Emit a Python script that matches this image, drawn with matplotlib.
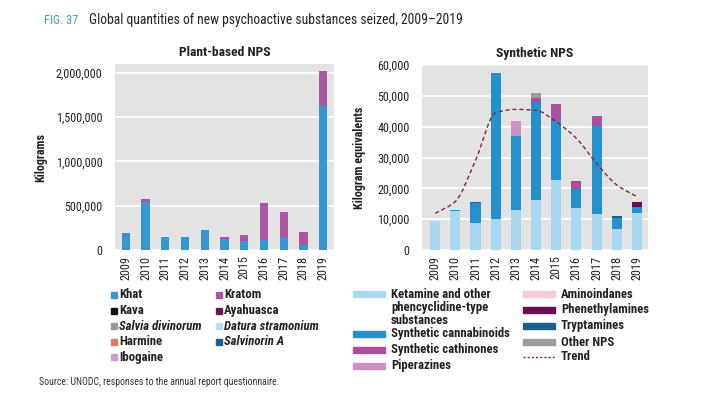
import numpy as np
import matplotlib
matplotlib.use("Agg")
import matplotlib.pyplot as plt
from matplotlib import font_manager
from matplotlib.patches import Rectangle
from matplotlib.path import Path
from matplotlib.patches import PathPatch
from matplotlib.lines import Line2D

# ---------------- data ----------------
years = ["2009", "2010", "2011", "2012", "2013", "2014", "2015", "2016", "2017", "2018", "2019"]

# Plant-based NPS (kilograms)
khat = [196000, 540000, 151000, 151000, 226000, 125000, 106000, 113000, 143000, 57000, 1623000]
kratom = [0, 37000, 0, 0, 0, 18000, 60000, 423000, 291000, 147000, 403000]

# Synthetic NPS (kilogram equivalents)
ketamine = [9500, 12700, 8900, 10000, 13000, 16200, 22700, 13500, 11600, 6800, 11900]
cannabinoids = [0, 300, 6200, 47300, 24000, 31900, 19100, 6200, 28900, 3700, 1900]
cathinones = [0, 0, 0, 0, 0, 1100, 5600, 2700, 3100, 0, 0]
piperazines = [0, 0, 0, 0, 4800, 0, 0, 0, 0, 0, 0]
aminoindanes = [0, 0, 0, 0, 0, 0, 0, 0, 0, 0, 0]
phenethylamines = [0, 0, 0, 0, 0, 0, 0, 0, 0, 0, 1700]
tryptamines = [0, 0, 500, 0, 0, 0, 0, 0, 0, 500, 200]
other_nps = [0, 0, 0, 0, 0, 1600, 0, 0, 0, 0, 0]
trend = [11900, 15700, 29000, 44500, 45600, 45300, 41600, 36200, 28100, 21100, 17300]

left_ticks = [0, 500000, 1000000, 1500000, 2000000]
right_ticks = [0, 10000, 20000, 30000, 40000, 50000, 60000]

plant_legend_col1 = [("Khat", "#3797CF", False), ("Kava", "#111111", False),
                     ("Salvia divinorum", "#9A9A9A", True), ("Harmine", "#E0785C", False),
                     ("Ibogaine", "#C8A0C8", False)]
plant_legend_col2 = [("Kratom", "#A9579F", False), ("Ayahuasca", "#6B1A50", False),
                     ("Datura stramonium", "#B9DDF1", True), ("Salvinorin A", "#1F5D8A", True)]
synth_legend_col1 = [("Ketamine and other\nphencyclidine-type\nsubstances", "#A9D8F2"),
                     ("Synthetic cannabinoids", "#2391CD"),
                     ("Synthetic cathinones", "#A9509F"),
                     ("Piperazines", "#CC92C4")]
synth_legend_col2 = [("Aminoindanes", "#F6C9DD"), ("Phenethylamines", "#6B0D4E"),
                     ("Tryptamines", "#1E5F8D"), ("Other NPS", "#9C9C9C")]

# ---------------- fonts ----------------
avail = {f.name for f in font_manager.fontManager.ttflist}
FONT = "Lato"
for cand in ["Liberation Sans Narrow", "Roboto Condensed", "Lato", "Roboto"]:
    if cand in avail:
        FONT = cand
        break
plt.rcParams["font.family"] = [FONT, "DejaVu Sans"]
TXT = "#222222"

W, H = 720, 395
fig = plt.figure(figsize=(W / 100, H / 100), dpi=100)


def fx(px):
    return px / W


def fy(py):
    return 1 - py / H


BG = "#E3E3E3"
x = np.arange(len(years))
TFS = 8.7


def style_axes(ax, ticks, fmt):
    ax.set_facecolor(BG)
    for s in ax.spines.values():
        s.set_visible(False)
    ax.set_yticks(ticks)
    ax.set_yticklabels([fmt(t) for t in ticks], fontsize=TFS, color=TXT)
    ax.tick_params(axis="y", length=0, pad=9)
    ax.tick_params(axis="x", length=0, pad=4)
    ax.set_xticks(x)
    ax.set_xticklabels(years, rotation=90, fontsize=TFS, color=TXT)
    ax.yaxis.grid(True, color="white", linewidth=1.2)
    ax.set_axisbelow(True)


# ---- left: plant based ----
axL = fig.add_axes([fx(115), fy(250), fx(334) - fx(115), fy(64) - fy(250)])
style_axes(axL, left_ticks, lambda t: f"{t:,}")
axL.bar(x, khat, width=0.42, color="#3797CF", zorder=3)
axL.bar(x, kratom, width=0.42, bottom=khat, color="#A9579F", zorder=3)
axL.set_xlim(-0.55, 10.55)
axL.set_ylim(0, 2100000)
axL.set_title("Plant-based NPS", fontsize=9.7, fontweight="bold", color=TXT, pad=6)
axL.set_ylabel("Kilograms", fontsize=8.7, fontweight="bold", color=TXT, labelpad=6)

# ---- right: synthetic ----
axR = fig.add_axes([fx(422), fy(250), fx(648) - fx(422), fy(65) - fy(250)])
style_axes(axR, right_ticks, lambda t: f"{t:,}")
series = [(ketamine, "#A9D8F2"), (cannabinoids, "#2391CD"), (cathinones, "#A9509F"),
          (piperazines, "#CC92C4"), (aminoindanes, "#F6C9DD"), (tryptamines, "#1E5F8D"),
          (phenethylamines, "#6B0D4E"), (other_nps, "#9C9C9C")]
bottom = np.zeros(len(years))
for vals, col in series:
    v = np.array(vals, dtype=float)
    axR.bar(x, v, width=0.5, bottom=bottom, color=col, zorder=3)
    bottom += v
axR.set_xlim(-0.65, 10.55)
axR.set_ylim(0, 60000)
axR.set_title("Synthetic NPS", fontsize=9.7, fontweight="bold", color=TXT, pad=6)
axR.set_ylabel("Kilogram equivalents", fontsize=8.7, fontweight="bold", color=TXT, labelpad=8)

# smooth trend: monotone cubic (PCHIP tangents) drawn as Bezier path
ty = np.array(trend, dtype=float)
tx = x.astype(float)
d = np.diff(ty)
m = np.zeros_like(ty)
m[0], m[-1] = d[0], d[-1]
for i in range(1, len(ty) - 1):
    if d[i - 1] * d[i] <= 0:
        m[i] = 0
    else:
        m[i] = 2 / (1 / d[i - 1] + 1 / d[i])
verts = [(tx[0], ty[0])]
codes = [Path.MOVETO]
for i in range(len(ty) - 1):
    verts += [(tx[i] + 1 / 3, ty[i] + m[i] / 3),
              (tx[i + 1] - 1 / 3, ty[i + 1] - m[i + 1] / 3),
              (tx[i + 1], ty[i + 1])]
    codes += [Path.CURVE4] * 3
axR.add_patch(PathPatch(Path(verts, codes), facecolor="none", edgecolor="#7A2746",
                        linewidth=1.0, linestyle=(0, (3, 2)), zorder=4))

# ---------------- titles ----------------
fig.text(fx(44), fy(20), "FIG. 37", fontsize=8.8, color="#3A9BC9", va="center", ha="left")
fig.text(fx(89), fy(20), "Global quantities of new psychoactive substances seized, 2009\u20132019",
         fontsize=9.8, color=TXT, va="center", ha="left")

# ---------------- legends ----------------
LFS = 9.2


def square_legend(items, x0, y0, step):
    for i, (lab, col, ital) in enumerate(items):
        yc = y0 + i * step
        fig.add_artist(Rectangle((fx(x0), fy(yc + 3)), fx(6), 6 / H, color=col,
                                 transform=fig.transFigure))
        fig.text(fx(x0 + 8), fy(yc), lab, fontsize=LFS, fontweight="bold",
                 fontstyle="italic" if ital else "normal", color=TXT, va="center", ha="left")


square_legend(plant_legend_col1, 111, 295, 15.6)
square_legend(plant_legend_col2, 216, 295, 15.6)


def bar_legend(items, x0, ys):
    for (lab, col), yc in zip(items, ys):
        fig.add_artist(Rectangle((fx(x0), fy(yc + 3)), fx(32), 6 / H, color=col,
                                 transform=fig.transFigure))
        fig.text(fx(x0 + 38), fy(yc - 6.5), lab, fontsize=LFS, fontweight="bold",
                 color=TXT, va="top", ha="left", linespacing=1.0)


bar_legend(synth_legend_col1, 353, [294, 334, 350, 366])
bar_legend(synth_legend_col2, 523, [294, 310, 326, 342])
fig.add_artist(Line2D([fx(523), fx(555)], [fy(357), fy(357)], color="#7A2746",
                      linewidth=1.0, linestyle=(0, (1.5, 1.5)), transform=fig.transFigure))
fig.text(fx(561), fy(357), "Trend", fontsize=LFS, fontweight="bold", color=TXT,
         va="center", ha="left")

fig.text(fx(39), fy(382), "Source: UNODC, responses to the annual report questionnaire.",
         fontsize=7, color="#333333", va="center", ha="left")

fig.savefig("out.png", dpi=100, facecolor="white")
